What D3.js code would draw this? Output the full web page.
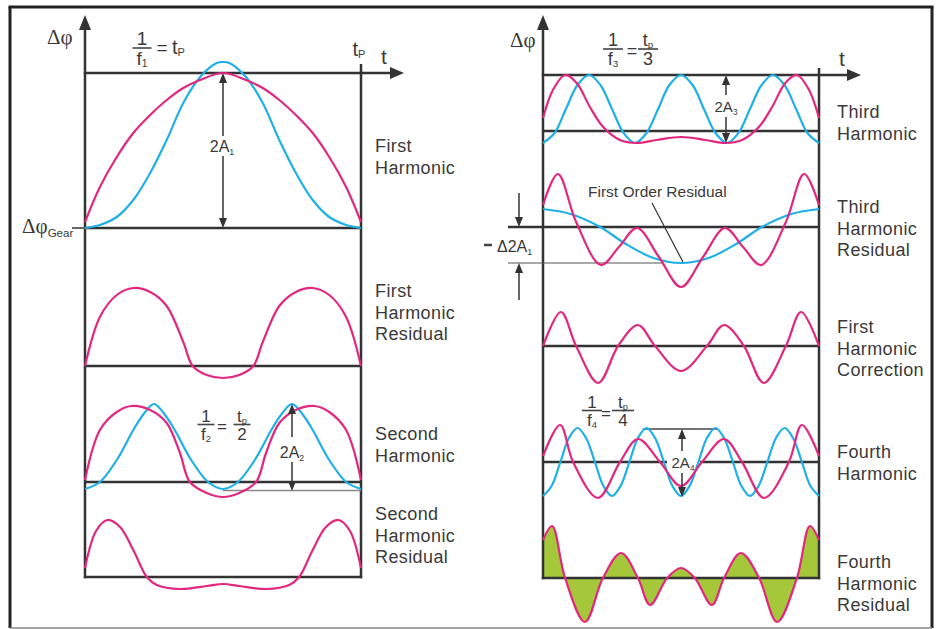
<!DOCTYPE html>
<html><head><meta charset="utf-8">
<script src="https://cdn.jsdelivr.net/npm/d3@7"></script>
<style>
body{margin:0;background:#fff}
svg{display:block}
text{font-family:"Liberation Sans",Arial,sans-serif;fill:#3a3a3a}
</style>
</head><body>
<svg id="c" width="938" height="629"></svg>
<script>
// ---------------- DATA (t = fraction of period tp, value = Δφ deviation, arbitrary units) -------------
const leftLabels = [["First","Harmonic"],["First","Harmonic","Residual"],["Second","Harmonic"],["Second","Harmonic","Residual"]];
const rightLabels = [["Third","Harmonic"],["Third","Harmonic","Residual"],["First","Harmonic","Correction"],["Fourth","Harmonic"],["Fourth","Harmonic","Residual"]];

const firstHarmonicMeasured = [[0,0.6],[0.054,4.1],[0.115,7.1],[0.175,9.5],[0.236,11.3],[0.296,12.8],[0.356,14.0],[0.417,14.8],[0.5,15.5],[0.583,14.8],[0.644,14.0],[0.704,12.8],[0.764,11.3],[0.825,9.5],[0.885,7.1],[0.946,4.1],[1,0.6]];
const firstHarmonicFit = [[0,0],[0.054,0.3],[0.115,1.1],[0.175,2.8],[0.236,5.5],[0.296,8.8],[0.356,12.5],[0.417,15.1],[0.477,16.5],[0.5,16.6],[0.523,16.5],[0.583,15.1],[0.644,12.5],[0.704,8.8],[0.764,5.5],[0.825,2.8],[0.885,1.1],[0.946,0.3],[1,0]];
const firstHarmonicResidual = [[0,0],[0.054,4.9],[0.115,7.1],[0.175,7.8],[0.236,7.4],[0.296,6.0],[0.356,2.4],[0.39,0],[0.441,-0.9],[0.5,-1.2],[0.559,-0.9],[0.61,0],[0.644,2.4],[0.704,6.0],[0.764,7.4],[0.825,7.8],[0.885,7.1],[0.946,4.9],[1,0]];
const secondHarmonicMeasured = [[0,0.2],[0.054,5.2],[0.115,7.0],[0.168,7.6],[0.236,7.2],[0.296,5.9],[0.344,2.9],[0.38,0],[0.441,-1.1],[0.5,-1.5],[0.559,-1.1],[0.62,0],[0.656,2.9],[0.704,5.9],[0.764,7.2],[0.832,7.6],[0.885,7.0],[0.946,5.2],[1,0.2]];
const secondHarmonicFit = [[0,-0.7],[0.054,0],[0.115,2.2],[0.175,5.2],[0.21,6.7],[0.25,7.8],[0.29,6.7],[0.325,5.2],[0.385,2.2],[0.446,0],[0.5,-0.7],[0.554,0],[0.615,2.2],[0.675,5.2],[0.71,6.7],[0.75,7.8],[0.79,6.7],[0.825,5.2],[0.885,2.2],[0.946,0],[1,-0.7]];
const secondHarmonicResidual = [[0,0.9],[0.04,4.6],[0.081,5.7],[0.127,5.0],[0.175,2.7],[0.224,0],[0.26,-0.8],[0.344,-1.2],[0.441,-0.9],[0.5,-0.7],[0.559,-0.9],[0.656,-1.2],[0.74,-0.8],[0.776,0],[0.825,2.7],[0.873,5.0],[0.919,5.7],[0.96,4.6],[1,0.9]];

const thirdHarmonicFit = [[0,-1.2],[0.042,-0.2],[0.083,2.2],[0.125,4.6],[0.167,5.6],[0.208,4.6],[0.25,2.2],[0.292,-0.2],[0.333,-1.2],[0.375,-0.2],[0.417,2.2],[0.458,4.6],[0.5,5.6],[0.542,4.6],[0.583,2.2],[0.625,-0.2],[0.667,-1.2],[0.708,-0.2],[0.75,2.2],[0.792,4.6],[0.833,5.6],[0.875,4.6],[0.917,2.2],[0.958,-0.2],[1,-1.2]];
const thirdHarmonicMeasured = [[0,1.3],[0.036,4.1],[0.08,5.6],[0.122,4.8],[0.17,2.4],[0.218,0.4],[0.279,-0.9],[0.339,-1.2],[0.411,-0.9],[0.5,-0.6],[0.589,-0.9],[0.661,-1.2],[0.721,-0.9],[0.782,0.4],[0.83,2.4],[0.878,4.8],[0.92,5.6],[0.964,4.1],[1,1.3]];
const firstOrderResidual = [[0,1.8],[0.1,1.3],[0.207,0],[0.3,-1.7],[0.4,-3.1],[0.5,-3.6],[0.6,-3.1],[0.7,-1.7],[0.793,0],[0.9,1.3],[1,1.8]];
const thirdHarmonicResidual = [[0,2.2],[0.054,5.3],[0.12,0.5],[0.21,-3.8],[0.275,-2.0],[0.341,-0.1],[0.42,-3.0],[0.5,-6.0],[0.58,-3.0],[0.659,-0.1],[0.725,-2.0],[0.79,-3.8],[0.88,0.5],[0.946,5.3],[1,2.2]];
const firstHarmonicCorrection = [[0,0],[0.065,3.4],[0.12,0],[0.2,-3.7],[0.272,0],[0.344,2.1],[0.406,0],[0.5,-2.5],[0.594,0],[0.656,2.1],[0.728,0],[0.8,-3.7],[0.88,0],[0.935,3.4],[1,0]];
const fourthHarmonicFit = [[0,-3.4],[0.031,-2.4],[0.063,0],[0.094,2.4],[0.125,3.4],[0.156,2.4],[0.188,0],[0.219,-2.4],[0.25,-3.4],[0.281,-2.4],[0.313,0],[0.344,2.4],[0.375,3.4],[0.406,2.4],[0.438,0],[0.469,-2.4],[0.5,-3.4],[0.531,-2.4],[0.563,0],[0.594,2.4],[0.625,3.4],[0.656,2.4],[0.688,0],[0.719,-2.4],[0.75,-3.4],[0.781,-2.4],[0.813,0],[0.844,2.4],[0.875,3.4],[0.906,2.4],[0.938,0],[0.969,-2.4],[1,-3.4]];
const fourthHarmonicMeasured = [[0,0.6],[0.062,3.7],[0.109,0],[0.199,-3.6],[0.279,0],[0.344,2.3],[0.424,0],[0.5,-2.4],[0.576,0],[0.656,2.3],[0.721,0],[0.801,-3.6],[0.891,0],[0.938,3.7],[1,0.6]];
const fourthHarmonicResidual = [[0,3.8],[0.033,5.2],[0.08,0],[0.152,-4.4],[0.217,0],[0.283,2.5],[0.344,0],[0.388,-2.7],[0.45,0],[0.5,1.0],[0.55,0],[0.612,-2.7],[0.656,0],[0.717,2.5],[0.783,0],[0.848,-4.4],[0.92,0],[0.967,5.2],[1,3.8]];

// ---------------- DRAWING -------------
const svg = d3.select("#c");
const INK = "#333", MAG = "#e2277f", BLUE = "#1eb0e6", GREEN = "#a5c83b";
const xL = d3.scaleLinear().domain([0,1]).range([85,361]);
const xR = d3.scaleLinear().domain([0,1]).range([543,819]);
const yStrip = b => d3.scaleLinear().domain([0,1]).range([b, b-10]);
const CURVE = d3.curveCatmullRom.alpha(0.5);

function seg(x1,y1,x2,y2,w,c){svg.append("line").attr("x1",x1).attr("y1",y1).attr("x2",x2).attr("y2",y2).attr("stroke",c||INK).attr("stroke-width",w||2.5);}
function head(x,y,dir,len,half){
  let p;
  if(dir==="up") p=[[x,y],[x-half,y+len],[x+half,y+len]];
  else if(dir==="down") p=[[x,y],[x-half,y-len],[x+half,y-len]];
  else p=[[x,y],[x-len,y-half],[x-len,y+half]];
  svg.append("path").attr("d","M"+p.join("L")+"Z").attr("fill",INK);
}
const lineGen = (xs,ys)=>d3.line().x(d=>xs(d[0])).y(d=>ys(d[1])).curve(CURVE);
function wave(data,xs,ys,color){svg.append("path").datum(data).attr("fill","none").attr("stroke",color).attr("stroke-width",2.2).attr("stroke-linejoin","round").attr("d",lineGen(xs,ys));}
function labels(x,y,lines){lines.forEach((s,i)=>svg.append("text").attr("x",x).attr("y",y+i*21.5).attr("font-size",18).attr("letter-spacing",0.4).text(s));}
function rich(x,y,parts,size,anchor,family){
  const t=svg.append("text").attr("x",x).attr("y",y).attr("font-size",size).attr("text-anchor",anchor||"start");
  if(family) t.style("font-family",family);
  parts.forEach(p=>{
    if(typeof p==="string") t.append("tspan").text(p);
    else t.append("tspan").attr("font-size",size*0.55).attr("dy",p[1]||3).text(p[0]).style("font-family",'"Liberation Sans",Arial,sans-serif');
  });
  return t;
}

// outer frame
svg.append("rect").attr("x",0).attr("y",0).attr("width",938).attr("height",629).attr("fill","#fff");
seg(8.5,7,933.5,7,3,"#222");
seg(10,7,10,628,3,"#222");
seg(932,7,932,628,3,"#222");
seg(10,628,932,628,1.5,"#888");

// strip scales
const yL1=yStrip(228), yL2=yStrip(366), yL3=yStrip(482), yL4=yStrip(577);
const yR1=yStrip(131), yR2=yStrip(227), yR3=yStrip(346), yR4=yStrip(462), yR5=yStrip(578);

// green fill (fourth harmonic residual)
svg.append("path").datum(fourthHarmonicResidual).attr("fill",GREEN)
  .attr("d",d3.area().x(d=>xR(d[0])).y0(yR5(0)).y1(d=>yR5(d[1])).curve(CURVE));

// ---- left panel frame/axes
seg(85,28,85,578.2); head(85,15,"up",15,6);
seg(83.8,73,392,73); head(404,73,"right",14,6);
seg(361,64,361,578.2);
seg(72,228,85,228,2,"#666"); seg(85,228,361,228);
seg(85,366,361,366);
seg(85,482,361,482);
seg(xL(0.5),yL3(-0.85),361,yL3(-0.85),1.5,"#888");
seg(83.8,577,362.2,577);

// ---- right panel frame/axes
seg(543,28,543,579.2); head(543,15,"up",15,6);
seg(541.8,75,849,75); head(861,75,"right",14,6);
seg(819,68,819,579.2);
seg(543,131,819,131);
seg(508,227,819,227);
seg(508,263,663,263,1.2,"#555");
seg(543,346,819,346);
seg(543,462,667,462); seg(700,462,819,462);
seg(xR(0.362),429,xR(0.63),429,1.5,"#444");
seg(541.8,578,820.2,578);

// ---- curves
wave(firstHarmonicFit,xL,yL1,BLUE); wave(firstHarmonicMeasured,xL,yL1,MAG);
wave(firstHarmonicResidual,xL,yL2,MAG);
wave(secondHarmonicFit,xL,yL3,BLUE); wave(secondHarmonicMeasured,xL,yL3,MAG);
wave(secondHarmonicResidual,xL,yL4,MAG);
wave(thirdHarmonicFit,xR,yR1,BLUE); wave(thirdHarmonicMeasured,xR,yR1,MAG);
wave(firstOrderResidual,xR,yR2,BLUE); wave(thirdHarmonicResidual,xR,yR2,MAG);
wave(firstHarmonicCorrection,xR,yR3,MAG);
wave(fourthHarmonicFit,xR,yR4,BLUE); wave(fourthHarmonicMeasured,xR,yR4,MAG);
wave(fourthHarmonicResidual,xR,yR5,MAG);

// ---- amplitude arrows
function dimArrow(x,yTop,yBot,gapTop,gapBot){
  seg(x,yTop+9,x,gapTop,1.5); seg(x,gapBot,x,yBot-9,1.5);
  head(x,yTop,"up",10,4); head(x,yBot,"down",10,4);
}
dimArrow(223,73,228,136,156);
rich(222,152,["2A",["1",3]],16,"middle");
dimArrow(292,404,491,437,462);
rich(292,458,["2A",["2",3]],16,"middle");
dimArrow(726,75,143,95,117);
rich(726,112,["2A",["3",3]],15,"middle");
dimArrow(682,429,497,451,473);
rich(683,468,["2A",["4",3]],15,"middle");

// -Δ2A1
seg(519,193,519,218,1.5); head(519,227,"down",10,4);
seg(519,300,519,272,1.5); head(519,263,"up",10,4);
seg(484,245,492,245,2.5,"#444");
rich(497,252,["Δ2A",["1",3]],16,"start");

// First Order Residual
svg.append("text").attr("x",588).attr("y",197).attr("font-size",15.5).text("First Order Residual");
seg(652,203,683,262,1.2,"#333");

// ---- fractions
function frac(cx,barY,num,den,size,w){
  const n=svg.append("text").attr("x",cx).attr("y",barY-2).attr("font-size",size).attr("text-anchor","middle");
  num.forEach(p=>{ if(typeof p==="string") n.append("tspan").text(p); else n.append("tspan").attr("font-size",size*0.55).attr("dy",2).text(p[0]); });
  seg(cx-w/2,barY+1,cx+w/2,barY+1,1.6,"#444");
  const d=svg.append("text").attr("x",cx).attr("y",barY+size*0.95).attr("font-size",size).attr("text-anchor","middle");
  den.forEach(p=>{ if(typeof p==="string") d.append("tspan").text(p); else d.append("tspan").attr("font-size",size*0.55).attr("dy",2).text(p[0]); });
}
frac(142,47,["1"],["f",["1"]],19,19);
svg.append("text").attr("x",162).attr("y",54).attr("font-size",19).attr("text-anchor","middle").text("=");
rich(172,54,["t",["P",2]],20,"start");
frac(206,423.5,["1"],["f",["2"]],17,17);
svg.append("text").attr("x",222).attr("y",432).attr("font-size",17).attr("text-anchor","middle").text("=");
frac(242,423.5,["t",["p"]],["2"],17,17);
frac(613,48,["1"],["f",["3"]],18,20);
svg.append("text").attr("x",632).attr("y",57).attr("font-size",18).attr("text-anchor","middle").text("=");
frac(648,48,["t",["p"]],["3"],18,20);
frac(592,409.5,["1"],["f",["4"]],17,20);
svg.append("text").attr("x",606).attr("y",419).attr("font-size",17).attr("text-anchor","middle").text("=");
frac(623,409.5,["t",["p"]],["4"],17,22);

// ---- axis labels
rich(359,56,["t",["P",2]],20,"middle");
svg.append("text").attr("x",384).attr("y",64).attr("font-size",21).attr("text-anchor","middle").text("t");
svg.append("text").attr("x",842).attr("y",66).attr("font-size",21).attr("text-anchor","middle").text("t");
svg.append("text").attr("x",47).attr("y",44).attr("font-size",21).style("font-family",'"Liberation Serif",serif').text("Δφ");
svg.append("text").attr("x",510).attr("y",47).attr("font-size",21).style("font-family",'"Liberation Serif",serif').text("Δφ");
rich(22,233,["Δφ",["Gear",4]],21,"start",'"Liberation Serif",serif');

// ---- strip labels
const leftY=[152,297,440,520], rightY=[118,213,333,458,568];
leftLabels.forEach((l,i)=>labels(375,leftY[i],l));
rightLabels.forEach((l,i)=>labels(837,rightY[i],l));
</script>
</body></html>
